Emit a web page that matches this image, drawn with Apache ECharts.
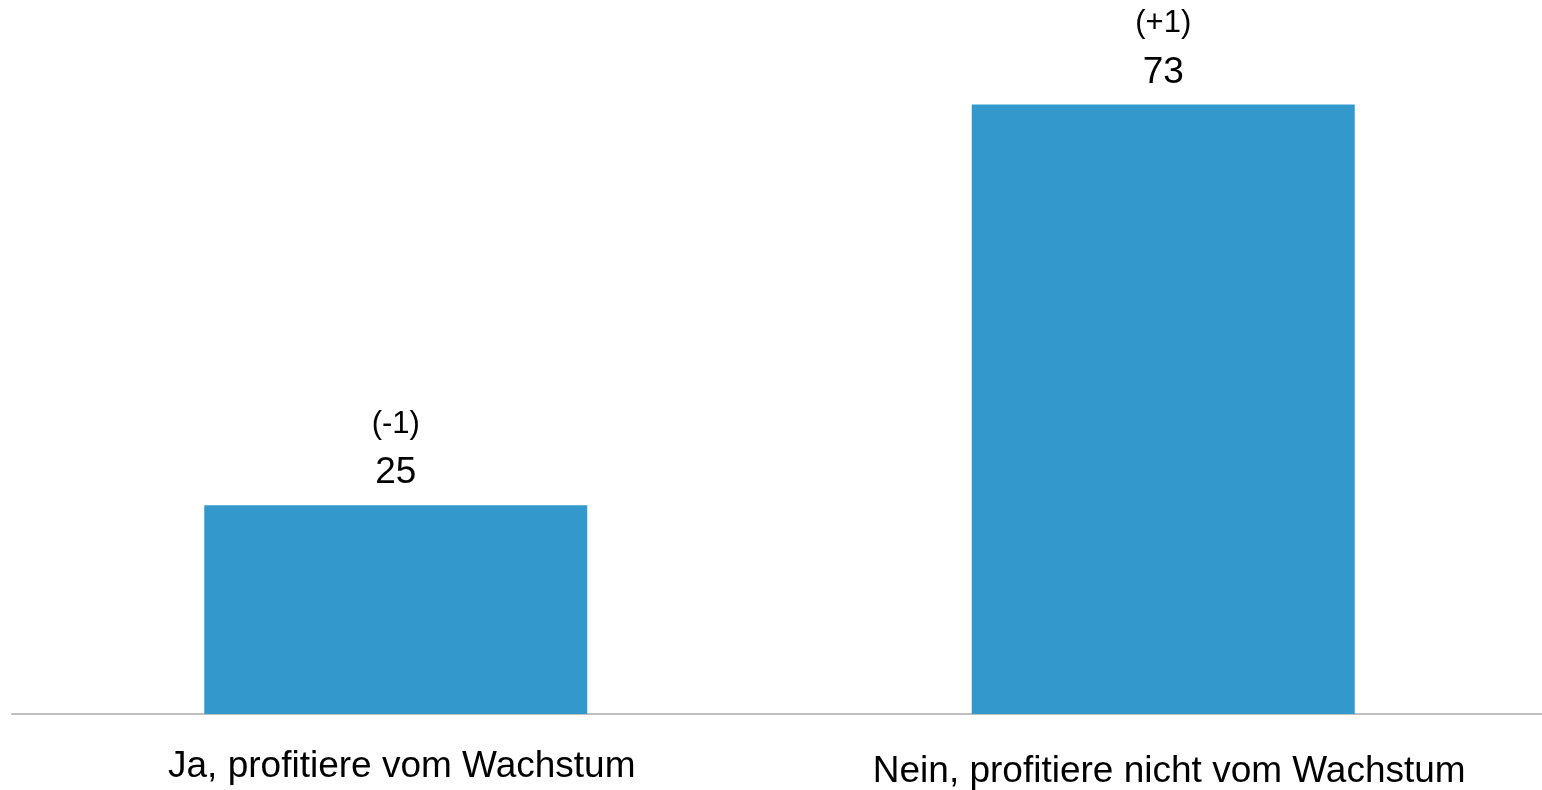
<!DOCTYPE html>
<html>
<head>
<meta charset="utf-8">
<script src="https://cdn.jsdelivr.net/npm/echarts@6/dist/echarts.min.js"></script>
<style>
  html, body { margin: 0; padding: 0; background: #fff; }
  #chart { width: 1542px; height: 790px; }
</style>
</head>
<body>
<div id="chart"></div>
<script>
const categories = ['Ja, profitiere vom Wachstum', 'Nein, profitiere nicht vom Wachstum'];
const values = [25, 73];
const changes = ['(-1)', '(+1)'];

const chart = echarts.init(document.getElementById('chart'));

const option = {
  backgroundColor: '#ffffff',
  animation: false,
  grid: { left: 12, right: -5, top: 46, bottom: 76, outerBoundsMode: 'none', containLabel: false },
  xAxis: {
    type: 'category',
    data: categories,
    axisLine: { show: true, lineStyle: { color: '#bfbfbf', width: 2 } },
    axisTick: { show: false },
    axisLabel: {
      interval: 0,
      margin: 33,
      formatter: function (val, idx) {
        return idx === 0 ? '{a|' + val + '}' : '{b|' + val + '}';
      },
      rich: {
        a: { fontFamily: 'Liberation Sans, Arial, sans-serif', fontSize: 37, color: '#000', lineHeight: 40, padding: [0, 0, 0, 12] },
        b: { fontFamily: 'Liberation Sans, Arial, sans-serif', fontSize: 37, color: '#000', lineHeight: 40, padding: [10, 0, 0, 12] }
      }
    }
  },
  yAxis: {
    type: 'value',
    min: 0,
    max: 80,
    show: false
  },
  series: [
    {
      type: 'bar',
      data: values,
      barWidth: '49.9%',
      itemStyle: { color: '#3399cc' },
      label: {
        show: true,
        position: 'top',
        distance: 12,
        formatter: function (p) {
          return '{c|' + changes[p.dataIndex] + '}\n{v|' + p.value + '}';
        },
        rich: {
          c: { fontFamily: 'Liberation Sans, Arial, sans-serif', fontSize: 31, color: '#000', lineHeight: 57 },
          v: { fontFamily: 'Liberation Sans, Arial, sans-serif', fontSize: 37, color: '#000', lineHeight: 40 }
        }
      }
    }
  ]
};

chart.setOption(option);
</script>
</body>
</html>
